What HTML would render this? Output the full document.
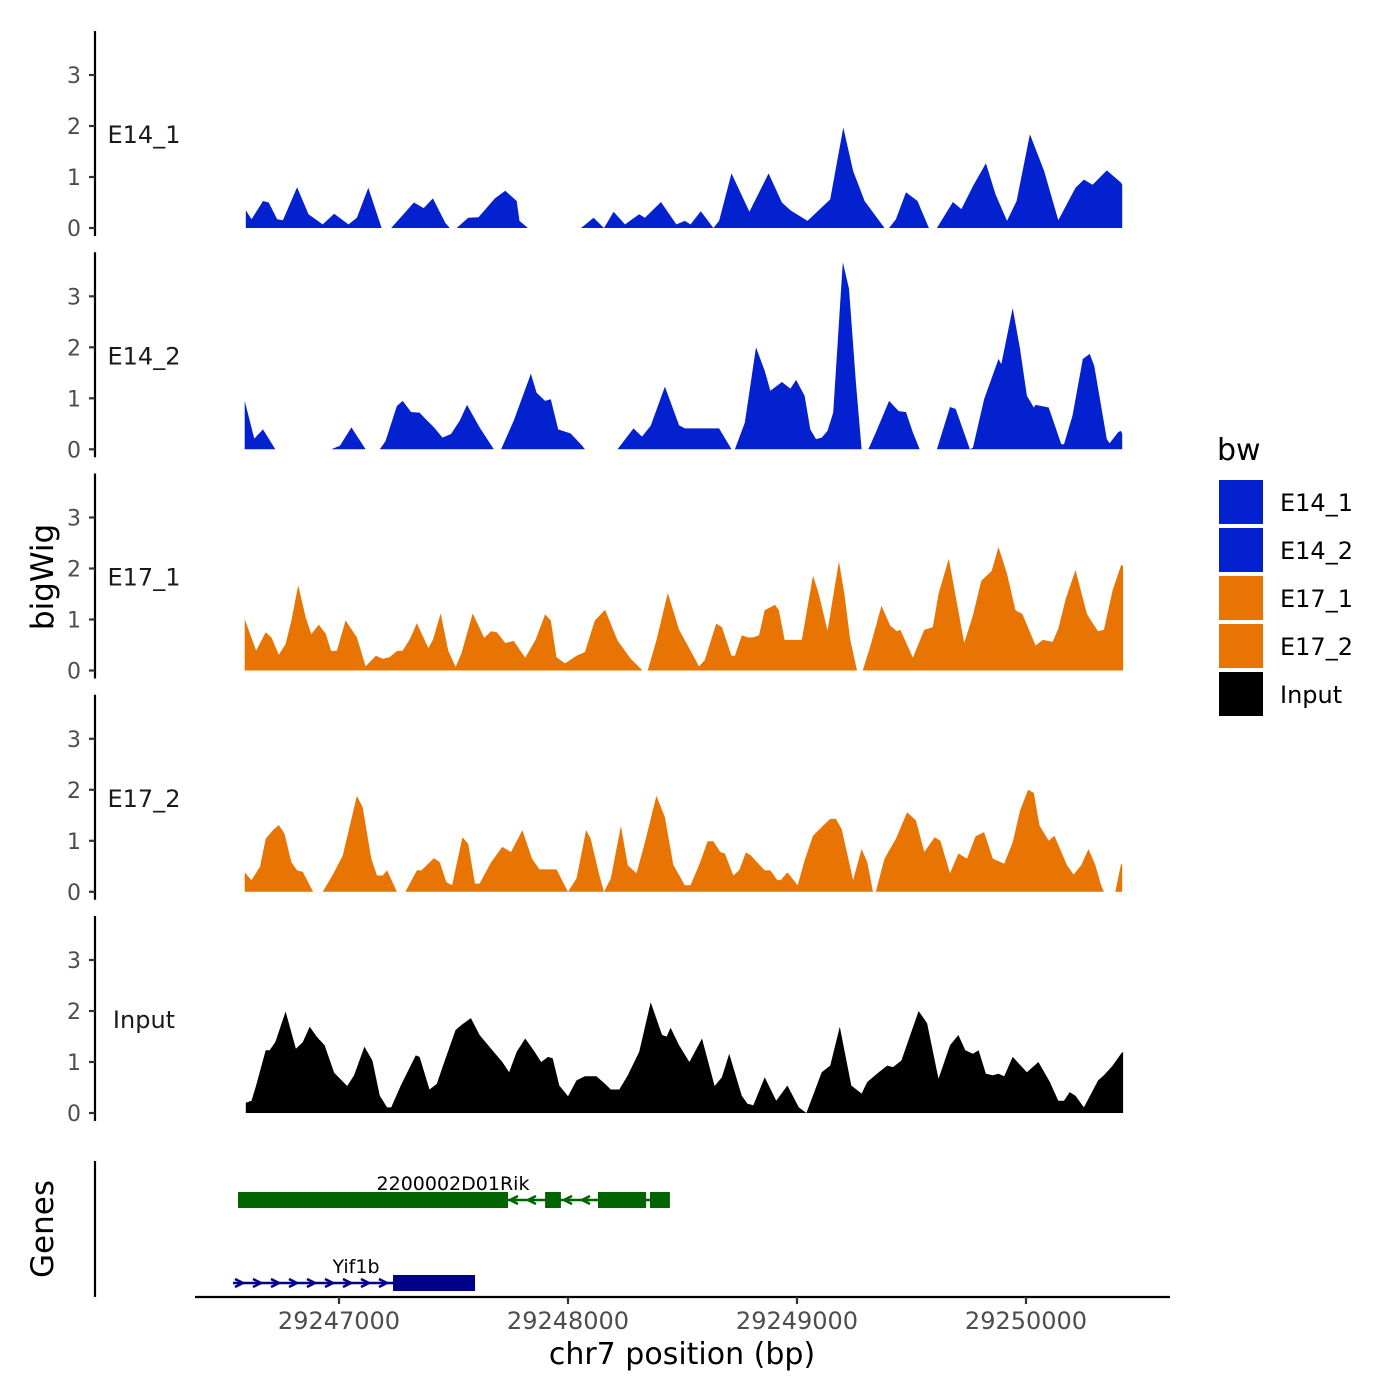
<!DOCTYPE html>
<html><head><meta charset="utf-8"><style>
html,body{margin:0;padding:0;background:#fff;}
svg{display:block;font-family:"DejaVu Sans","Liberation Sans",sans-serif;}
</style></head><body>
<svg id="chart" width="1400" height="1400" viewBox="0 0 1400 1400" xmlns="http://www.w3.org/2000/svg">
<rect width="1400" height="1400" fill="#fff"/>
<g id="tracks"></g>
<g id="genes"></g>
<g id="xaxis"></g>
<text x="682" y="1364" font-size="30" text-anchor="middle" fill="#000">chr7 position (bp)</text>
<text transform="translate(53,577) rotate(-90)" font-size="31" text-anchor="middle" fill="#000">bigWig</text>
<text transform="translate(53,1229) rotate(-90)" font-size="31" text-anchor="middle" fill="#000">Genes</text>
<g id="legend"></g>
</svg>
<script>
const regionStart = 29246568;
const trackNames = ["E14_1","E14_2","E17_1","E17_2","Input"];
const trackColors = ["#0421d0","#0421d0","#e87503","#e87503","#000000"];
const yTicks = [0,1,2,3];
const xTicks = [29247000,29248000,29249000,29250000];

const e14_1Pos = [25,50,100,125,162,187,249,299,361,411,473,510,560,618,null,660,759,802,842,896,916,null,946,996,1041,1113,1158,1208,1220,1257,null,1489,1544,1589,1631,1681,1743,1768,1838,1905,1942,1967,2012,2067,2092,2146,2224,2308,2366,2403,2478,2577,2634,2677,2727,2814,null,2834,2864,2908,2958,3008,null,3043,3113,3150,3200,3257,3299,3349,3391,3449,3511,3573,3648,3685,3723,3785,3847,3852];
const e14_1Val = [0.35,0.17,0.53,0.5,0.17,0.15,0.8,0.27,0.07,0.28,0.07,0.2,0.79,0,null,0,0.5,0.39,0.58,0.1,0,null,0,0.2,0.21,0.58,0.73,0.53,0.14,0,null,0,0.2,0,0.32,0.07,0.27,0.2,0.51,0.07,0.14,0.07,0.33,0,0.14,1.07,0.32,1.07,0.5,0.35,0.14,0.56,1.97,1.12,0.53,0,null,0,0.17,0.7,0.53,0,null,0,0.51,0.37,0.82,1.27,0.66,0.14,0.53,1.84,1.12,0.15,0.79,0.95,0.85,1.13,0.89,0.85];

const e14_2Pos = [20,62,100,154,null,398,436,486,548,null,610,635,685,710,747,784,809,847,884,921,959,991,1046,1108,null,1140,1195,1270,1295,1332,1357,1389,1444,1494,1506,null,1648,1718,1755,1793,1855,1917,1942,2092,2146,2161,2204,2253,2291,2316,2366,2403,2428,2465,2490,2515,2540,2565,2590,2632,2659,2689,2714,null,2744,2776,2834,2876,2908,2938,2968,null,3043,3100,3125,3187,3200,3249,3312,3324,3374,3406,3436,3466,3474,3531,3586,3598,3635,3680,3710,3730,3785,3797,3835,3847,3852];
const e14_2Val = [0.95,0.21,0.39,0,null,0,0.07,0.43,0,null,0,0.16,0.85,0.95,0.73,0.72,0.6,0.43,0.23,0.3,0.56,0.87,0.43,0,null,0,0.56,1.48,1.11,0.95,0.98,0.39,0.31,0.07,0,null,0,0.41,0.25,0.46,1.23,0.47,0.41,0.41,0,0,0.52,2.0,1.54,1.15,1.32,1.19,1.36,1.05,0.39,0.2,0.23,0.36,0.72,3.67,3.15,1.31,0,null,0,0.33,0.95,0.75,0.73,0.33,0,null,0,0.83,0.79,0,0.03,0.98,1.77,1.67,2.77,1.97,1.05,0.82,0.87,0.82,0.1,0.1,0.66,1.77,1.87,1.64,0.2,0.12,0.34,0.36,0.3];

const e17_1Pos = [20,70,112,137,169,199,224,254,286,311,344,374,398,423,461,510,548,593,623,652,685,710,742,772,822,842,876,909,941,966,1016,1066,1096,1121,1158,1195,1245,1290,1332,1357,1382,1419,1469,1506,1549,1594,1648,1706,1755,null,1780,1818,1868,1917,1967,2004,2029,2079,2104,2146,2161,2191,2216,2241,2266,2291,2336,2353,2378,2453,2478,2502,2527,2565,2615,2639,2664,2694,null,2719,2751,2801,2839,2868,2883,2938,2988,3025,3050,3095,3162,3200,3237,3282,3312,3349,3386,3416,3474,3506,3548,3573,3606,3648,3698,3723,3747,3772,3810,3847,3856];
const e17_1Val = [1.01,0.39,0.75,0.65,0.31,0.52,0.98,1.67,1.05,0.71,0.9,0.72,0.38,0.39,0.98,0.65,0.08,0.29,0.23,0.26,0.38,0.39,0.62,0.93,0.44,0.6,1.12,0.39,0.07,0.33,1.12,0.64,0.77,0.75,0.54,0.58,0.25,0.6,1.1,0.98,0.26,0.14,0.29,0.36,0.98,1.19,0.59,0.23,0.01,null,0,0.59,1.52,0.8,0.39,0.08,0.2,0.92,0.85,0.29,0.29,0.69,0.65,0.65,0.69,1.18,1.29,1.18,0.6,0.6,1.24,1.86,1.5,0.78,2.14,1.5,0.62,0,null,0,0.46,1.27,0.88,0.77,0.8,0.25,0.8,0.85,1.5,2.19,0.54,1.08,1.76,1.95,2.42,1.9,1.18,1.11,0.49,0.6,0.56,0.82,1.41,1.97,1.11,0.93,0.77,0.8,1.57,2.06,2.06];

const e17_2Pos = [20,50,87,112,144,169,194,224,249,274,319,null,361,403,448,510,535,573,598,623,642,685,null,722,772,792,847,872,901,926,971,996,1026,1046,1096,1145,1183,1233,1275,1307,1382,1432,1469,1511,1531,1569,1589,1619,1663,1693,1731,1768,1818,1855,1892,1942,1967,2004,2042,2067,2097,2117,2154,2179,2209,2229,2291,2316,2346,2361,2390,2435,2465,2502,2540,2577,2602,2627,2677,2714,2739,2764,null,2776,2814,2864,2913,2951,2988,3033,3058,3100,3137,3175,3212,3249,3287,3337,3374,3406,3441,3466,3491,3531,3556,3611,3640,3673,3705,3735,3760,3772,null,3822,3847,3852];
const e17_2Val = [0.38,0.23,0.49,1.04,1.21,1.31,1.14,0.58,0.42,0.39,0,null,0,0.32,0.71,1.88,1.66,0.65,0.32,0.32,0.42,0,null,0,0.42,0.42,0.66,0.58,0.19,0.13,1.07,0.94,0.16,0.16,0.58,0.88,0.78,1.21,0.65,0.44,0.44,0,0.26,1.21,1.04,0.32,0,0.26,1.29,0.52,0.36,0.97,1.88,1.46,0.53,0.13,0.13,0.52,0.99,0.99,0.78,0.75,0.32,0.42,0.77,0.72,0.42,0.42,0.23,0.23,0.38,0.13,0.62,1.1,1.27,1.43,1.43,1.23,0.23,0.84,0.58,0,null,0,0.65,1.04,1.56,1.4,0.78,1.07,1.0,0.36,0.75,0.65,1.09,1.17,0.65,0.55,0.97,1.59,2.0,1.94,1.3,1.0,1.1,0.52,0.34,0.52,0.84,0.52,0.13,0,null,0,0.54,0.54];

const inputPos = [25,50,70,112,129,154,199,244,274,304,336,369,411,468,498,543,578,610,642,660,702,767,784,827,859,884,941,971,1008,1046,1096,1145,1175,1208,1245,1282,1315,1345,1365,1394,1432,1469,1506,1556,1594,1619,1656,1693,1743,1793,1843,1863,1880,1917,1962,2017,2072,2104,2136,2191,2216,2241,2291,2341,2390,2440,2473,2540,2577,2619,2669,2714,2739,2789,2826,2851,2888,2963,3000,3050,3100,3137,3167,3200,3225,3257,3287,3312,3337,3374,3436,3486,3536,3573,3598,3623,3648,3685,3747,3772,3810,3847,3856];
const inputVal = [0.2,0.24,0.54,1.23,1.23,1.39,1.99,1.26,1.39,1.69,1.49,1.33,0.79,0.53,0.74,1.3,1.03,0.34,0.11,0.11,0.54,1.13,1.1,0.46,0.57,0.9,1.63,1.74,1.86,1.53,1.26,1.0,0.8,1.2,1.46,1.23,1.0,1.1,1.07,0.54,0.33,0.64,0.72,0.72,0.57,0.46,0.46,0.74,1.2,2.17,1.53,1.5,1.67,1.33,1.0,1.46,0.53,0.7,1.16,0.34,0.18,0.15,0.7,0.24,0.54,0.11,0,0.8,0.93,1.69,0.54,0.38,0.61,0.8,0.93,0.9,1.03,2.0,1.76,0.67,1.33,1.53,1.23,1.16,1.23,0.77,0.74,0.77,0.72,1.1,0.8,1.0,0.61,0.24,0.24,0.41,0.34,0.11,0.64,0.74,0.93,1.16,1.2];

const trackPos = [e14_1Pos,e14_2Pos,e17_1Pos,e17_2Pos,inputPos];
const trackVal = [e14_1Val,e14_2Val,e17_1Val,e17_2Val,inputVal];

const geneNames = ["2200002D01Rik","Yif1b"];
const geneColors = ["#006400","#00008b"];
const geneStrand = [-1,1];
const geneSpan = [[29246559,29248445],[29246537,29247594]];
const geneExons = [[[29246559,29247738],[29247900,29247969],[29248131,29248341],[29248358,29248445]],[[29247236,29247594]]];

const NS="http://www.w3.org/2000/svg";
function mk(tag,attrs,parent){const e=document.createElementNS(NS,tag);for(const k in attrs)e.setAttribute(k,attrs[k]);parent.appendChild(e);return e;}
function xScale(bp){return 339+(bp-29247000)*0.229;}
const baselines=[228,449.3,670.5,891.8,1113];
function yScale(i,v){return baselines[i]-v*51;}

const tracksG=document.getElementById('tracks');
for(let i=0;i<5;i++){
  const g=mk('g',{},tracksG);
  
  
  const top=baselines[i]-197, bot=baselines[i]+8;
  const ax=mk('line',{x1:95,x2:95,y1:top,y2:bot,stroke:'#000','stroke-width':2.2},g);
  
  
  yTicks.forEach(t=>{
    const y=yScale(i,t);
    const tk=mk('line',{x1:89,x2:95,y1:y,y2:y,stroke:'#333','stroke-width':2.2},g);
    
    
    const tl=mk('text',{x:81,y:y+8,'font-size':22,'text-anchor':'end',fill:'#4d4d4d'},g);
    
    
    tl.textContent=t;
  });
  const lab=mk('text',{x:144,y:baselines[i]-85,'font-size':24,'text-anchor':'middle',fill:'#1a1a1a'},g);
  
  
  lab.textContent=trackNames[i];
  const P=trackPos[i],V=trackVal[i];
  let seg=[];
  const segs=[];
  for(let k=0;k<P.length;k++){
    if(P[k]===null||V[k]===null){if(seg.length)segs.push(seg);seg=[];continue;}
    seg.push([P[k],V[k]]);
  }
  if(seg.length)segs.push(seg);
  segs.forEach(s=>{
    const b=baselines[i];
    let d='M'+xScale(regionStart+s[0][0]).toFixed(1)+','+b;
    s.forEach(p=>{d+='L'+xScale(regionStart+p[0]).toFixed(1)+','+yScale(i,p[1]).toFixed(1);});
    d+='L'+xScale(regionStart+s[s.length-1][0]).toFixed(1)+','+b+'Z';
    const a=mk('path',{d:d,fill:trackColors[i]},g);
    
    
  });
}

const gG=document.getElementById('genes');
const gax=mk('line',{x1:95,x2:95,y1:1161,y2:1297,stroke:'#000','stroke-width':2.2},gG);


const geneY=[1200,1283];
for(let i=0;i<2;i++){
  const g=mk('g',{},gG);
  
  
  const y=geneY[i],c=geneColors[i];
  const x1=xScale(geneSpan[i][0]),x2=xScale(geneSpan[i][1]);
  mk('line',{x1:x1,x2:x2,y1:y,y2:y,stroke:c,'stroke-width':2.5},g);
  for(let x=x1+6;x<x2-4;x+=18){
    const dx=geneStrand[i]*4;
    mk('polyline',{points:(x-dx)+','+(y-4)+' '+(x+dx)+','+y+' '+(x-dx)+','+(y+4),fill:'none',stroke:c,'stroke-width':2.5},g);
  }
  geneExons[i].forEach(e=>{
    const r=mk('rect',{x:xScale(e[0]),y:y-8,width:xScale(e[1])-xScale(e[0]),height:16,fill:c},g);
    
    
  });
  const t=mk('text',{x:i==0?453:356,y:y-10,'font-size':19,'text-anchor':'middle',fill:'#000'},g);
  
  
  t.textContent=geneNames[i];
}

const xG=document.getElementById('xaxis');
mk('line',{x1:195,x2:1170,y1:1297,y2:1297,stroke:'#000','stroke-width':2.2},xG);
xTicks.forEach(t=>{
  const x=xScale(t);
  const tk=mk('line',{x1:x,x2:x,y1:1297,y2:1304,stroke:'#333','stroke-width':2.2},xG);
  
  
  const tl=mk('text',{x:x,y:1329,'font-size':24,'text-anchor':'middle',fill:'#4d4d4d'},xG);
  
  
  tl.textContent=t;
});

const lG=document.getElementById('legend');
const lt=mk('text',{x:1217,y:460,'font-size':30,fill:'#000'},lG);


lt.textContent='bw';
trackNames.forEach((n,k)=>{
  const y=480+k*48;
  const r=mk('rect',{x:1219,y:y,width:44,height:44,fill:trackColors[k]},lG);
  
  
  const t=mk('text',{x:1280,y:y+31,'font-size':24,fill:'#000'},lG);
  
  
  t.textContent=n;
});
</script>
</body></html>
